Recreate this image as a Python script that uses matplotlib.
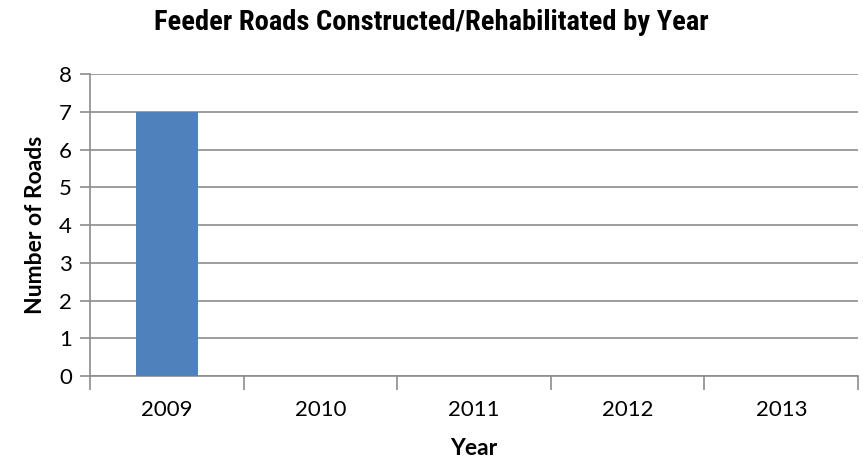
import numpy as np
import matplotlib.pyplot as plt
from matplotlib.ticker import FixedLocator

years = ["2009", "2010", "2011", "2012", "2013"]
roads = [7, 0, 0, 0, 0]
y_ticks = [0, 1, 2, 3, 4, 5, 6, 7, 8]

grey = "#8c8c8c"
body_font = ["Lato", "DejaVu Sans"]
title_font = ["Roboto Condensed", "Liberation Sans Narrow", "Arial Narrow", "Liberation Sans"]

fig = plt.figure(figsize=(8.63, 4.66), dpi=100)
ax = fig.add_axes([0.1043, 0.193, 0.89, 0.648])

x = np.arange(len(years))
ax.bar(x, roads, width=0.4, color="#4f81bd", zorder=3)

ax.set_xlim(-0.5, len(years) - 0.5)
ax.set_ylim(0, 8)
ax.set_yticks(y_ticks)
ax.set_yticklabels([str(v) for v in y_ticks], fontsize=16, family=body_font)

# category boundaries get the tick marks, labels sit between them
ax.xaxis.set_major_locator(FixedLocator(np.arange(-0.5, len(years), 1.0)))
ax.set_xticklabels([])
ax.set_xticks(x, minor=True)
ax.set_xticklabels(years, minor=True, fontsize=16, family=body_font)
ax.tick_params(axis="x", which="major", length=10, color=grey, width=1.2)
ax.tick_params(axis="x", which="minor", length=0, pad=17)
ax.tick_params(axis="y", length=7, color=grey, width=1.2, pad=6)

ax.grid(axis="y", color=grey, linewidth=1.2, zorder=0)
for side in ["top", "right"]:
    ax.spines[side].set_visible(False)
for side in ["left", "bottom"]:
    ax.spines[side].set_color(grey)
    ax.spines[side].set_linewidth(1.2)

ax.set_xlabel("Year", fontsize=16.5, fontweight="bold", family=body_font, labelpad=13)
ax.set_ylabel("Number of Roads", fontsize=16.5, fontweight="bold", family=body_font, labelpad=9)
fig.text(0.5, 0.952, "Feeder Roads Constructed/Rehabilitated by Year", ha="center", va="center",
         fontsize=20.5, fontweight="bold", family=title_font, fontstretch="condensed")

fig.savefig("out.png", dpi=100)
